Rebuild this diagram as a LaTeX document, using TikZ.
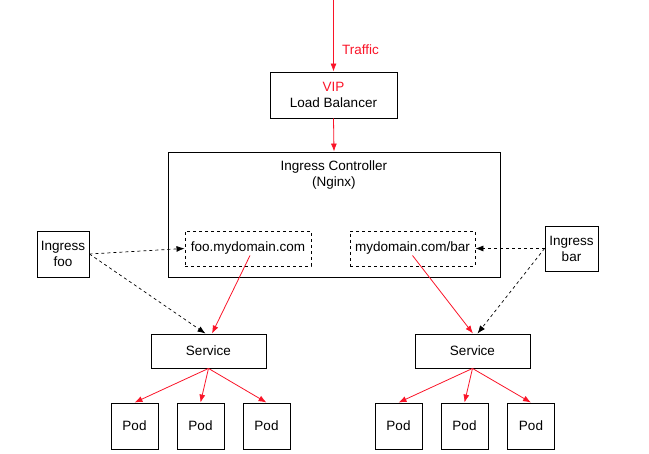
\documentclass[tikz,border=0pt]{standalone}
\usepackage{fontspec}
\setmainfont{Liberation Sans}
\usetikzlibrary{arrows.meta}
\definecolor{R}{RGB}{250,20,40}
\def\Wd{649}
\def\Ht{454}
\tikzset{
    box/.style={draw,line width=0.9pt,inner sep=0pt,align=center,font=\fontsize{13.5}{16}\selectfont},
    dbox/.style={box,dashed},
    redarrow/.style={R,line width=0.8pt,-{Latex[length=8pt,width=6pt]}},
    dasharrow/.style={black,dashed,line width=0.7pt,-{Latex[length=8pt,width=6pt]}}
}
\begin{document}
\begin{tikzpicture}[x=1pt,y=-1pt]
    \path[use as bounding box] (0,0) rectangle (\Wd,\Ht);
    \coordinate (top) at (333.5,0);
    \node[box,minimum width=127pt,minimum height=46pt] (LB) at (333.5,95) {{\color{R}VIP}\\Load Balancer};
    \node[box,minimum width=332pt,minimum height=125pt,label={[anchor=north,yshift=-6pt,align=center,font=\fontsize{13.5}{16}\selectfont]north:Ingress Controller\\(Nginx)}] (IC) at (334,214.5) {};
    \node[dbox,minimum width=126pt,minimum height=35pt] (Foo) at (248,248.5) {foo.mydomain.com};
    \node[dbox,minimum width=125pt,minimum height=35pt] (Bar) at (412.5,248.5) {mydomain.com/bar};
    \node[box,minimum width=52pt,minimum height=46pt] (IF) at (63,254) {Ingress\\foo};
    \node[box,minimum width=53pt,minimum height=45pt] (IB) at (571.5,248.5) {Ingress\\bar};
    \node[box,minimum width=115pt,minimum height=34pt] (SL) at (208.5,351) {Service};
    \node[box,minimum width=115pt,minimum height=34pt] (SR) at (472.5,351) {Service};
    \foreach \X [count=\P] in {134.5,200.5,266.5} {
        \node[box,minimum width=47pt,minimum height=46pt] (PL\P) at (\X,426) {Pod};
        \draw[redarrow] (SL.south) -- (PL\P.north);
    }
    \foreach \X [count=\P] in {398.5,464.5,531} {
        \node[box,minimum width=47pt,minimum height=46pt] (PR\P) at (\X,426) {Pod};
        \draw[redarrow] (SR.south) -- (PR\P.north);
    }
    \draw[redarrow] (top) -- (LB.north) node[pos=0.7,right,xshift=5pt,font=\fontsize{13.5}{16}\selectfont] {Traffic};
    \draw[redarrow] (LB.south) -- (IC.north);
    \draw[redarrow] ([xshift=2pt,yshift=-7pt]Foo.center) -- ([xshift=3.5pt]SL.north);
    \draw[redarrow] ([yshift=-7pt]Bar.center) -- ([xshift=0.5pt]SR.north);
    \draw[dasharrow] (IF.east) -- (Foo.west);
    \draw[dasharrow] (IF.east) -- ([xshift=-3pt]SL.north);
    \draw[dasharrow] (IB.west) -- (Bar.east);
    \draw[dasharrow] (IB.west) -- ([xshift=5pt]SR.north);
\end{tikzpicture}
\end{document}
